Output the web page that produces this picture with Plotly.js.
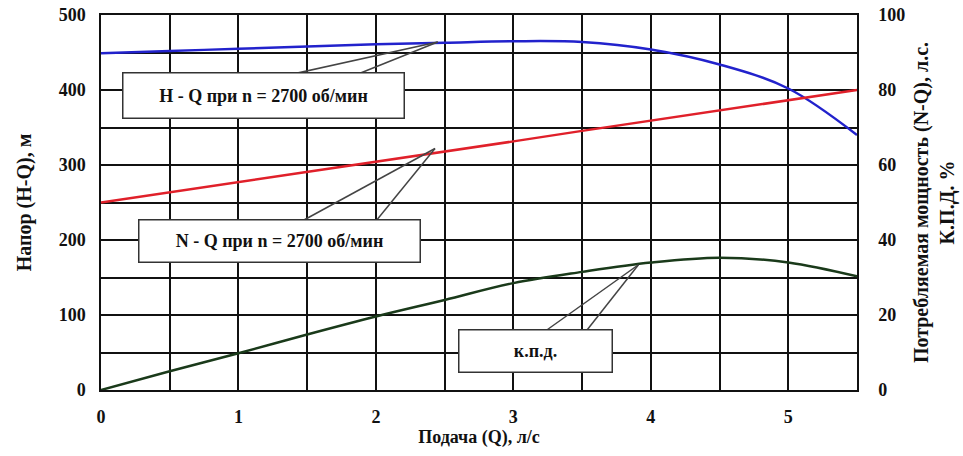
<!DOCTYPE html>
<html><head><meta charset="utf-8">
<script src="https://cdn.plot.ly/plotly-3.0.1.min.js"></script>
<style>html,body{margin:0;padding:0;background:#fff}</style>
</head><body><div id="chart" style="width:963px;height:456px"></div>
<script>
const qValues = [0, 0.5, 1, 1.5, 2, 2.5, 3, 3.5, 4, 4.5, 5, 5.5];
const headHQ = [449, 452, 455, 458, 461, 463, 465, 464, 454, 434, 402, 340];
const powerNQ = [50, 52.7, 55.4, 58.2, 60.9, 63.6, 66.3, 69.1, 71.8, 74.5, 77.2, 80];
const efficiency = [0, 5, 9.8, 14.8, 19.6, 24, 28.5, 31.5, 34, 35.3, 34, 30.3];
const xTicks = [0, 1, 2, 3, 4, 5];
const labelHQ = "H - Q при n = 2700 об/мин";
const labelNQ = "N - Q при n = 2700 об/мин";
const labelEff = "к.п.д.";

const tickFont = {family: "Liberation Serif", size: 18, color: "#111", weight: "bold"};
const traces = [
  {x: qValues, y: headHQ, type: "scatter", mode: "lines", line: {color: "#2222cc", width: 2.5, shape: "spline"}, yaxis: "y"},
  {x: qValues, y: powerNQ, type: "scatter", mode: "lines", line: {color: "#e0202a", width: 2.5}, yaxis: "y2"},
  {x: qValues, y: efficiency, type: "scatter", mode: "lines", line: {color: "#1a3a1a", width: 2.5, shape: "spline"}, yaxis: "y2"}
];
// callout pointer edges as line shapes; the annotation boxes are drawn over their bases
const edge = (bx, by, tx, ty) => ({
  type: "line", xref: "x", yref: "y", x0: bx, y0: by, x1: tx, y1: ty, layer: "above",
  line: {color: "#444", width: 1.5}
});
const box = (text, cx, cy, w, h) => ({
  text: "<b>" + text + "</b>", x: cx, y: cy, xref: "x", yref: "y", showarrow: false,
  bgcolor: "#fff", bordercolor: "#333", borderwidth: 1.5, borderpad: 4, width: w, height: h,
  font: {family: "Liberation Serif", size: 18, color: "#111"}
});
const layout = {
  width: 963, height: 456,
  margin: {l: 101, r: 106, t: 15, b: 66},
  paper_bgcolor: "#fff", plot_bgcolor: "#fff",
  showlegend: false,
  font: {family: "Liberation Serif", size: 15, color: "#111"},
  xaxis: {range: [0, 5.5], tickvals: xTicks, showgrid: true, gridcolor: "#111", gridwidth: 1.5,
    minor: {dtick: 0.5, showgrid: true, gridcolor: "#111", gridwidth: 1.5},
    zeroline: false, showline: true, linecolor: "#111", linewidth: 1.5, mirror: true,
    ticks: "", ticklabelstandoff: 10, tickfont: tickFont,
    title: {text: "<b>Подача (Q), л/с</b>", standoff: 4, font: {family: "Liberation Serif", size: 18, color: "#111"}}},
  yaxis: {range: [0, 500], dtick: 100, showgrid: true, gridcolor: "#111", gridwidth: 1.5,
    minor: {dtick: 50, showgrid: true, gridcolor: "#111", gridwidth: 1.5},
    zeroline: false, showline: true, linecolor: "#111", linewidth: 1.5,
    ticks: "", ticklabelstandoff: 10, tickfont: tickFont,
    title: {text: "<b>Напор (H-Q), м</b>", standoff: 22, font: {family: "Liberation Serif", size: 20, color: "#111"}}},
  yaxis2: {range: [0, 100], dtick: 20, overlaying: "y", side: "right", showgrid: false, zeroline: false,
    showline: true, linecolor: "#111", linewidth: 1.5,
    ticks: "", ticklabelstandoff: 16, tickfont: tickFont,
    title: {text: "<b>Потребляемая мощность (N-Q), л.с.<br>К.П.Д. %</b>", standoff: 10, font: {family: "Liberation Serif", size: 20, color: "#111"}}},
  shapes: [
    edge(0.87, 400, 2.45, 464), edge(1.58, 400, 2.45, 464),
    edge(1.26, 205, 2.43, 322), edge(1.91, 205, 2.43, 322),
    edge(3.09, 60, 3.91, 167), edge(3.45, 60, 3.91, 167)
  ],
  annotations: [
    box(labelHQ, 1.18, 393, 272, 36),
    box(labelNQ, 1.30, 199, 272, 33),
    box(labelEff, 3.16, 52, 144, 33)
  ]
};
Plotly.newPlot("chart", traces, layout, {displayModeBar: false});
</script></body></html>
